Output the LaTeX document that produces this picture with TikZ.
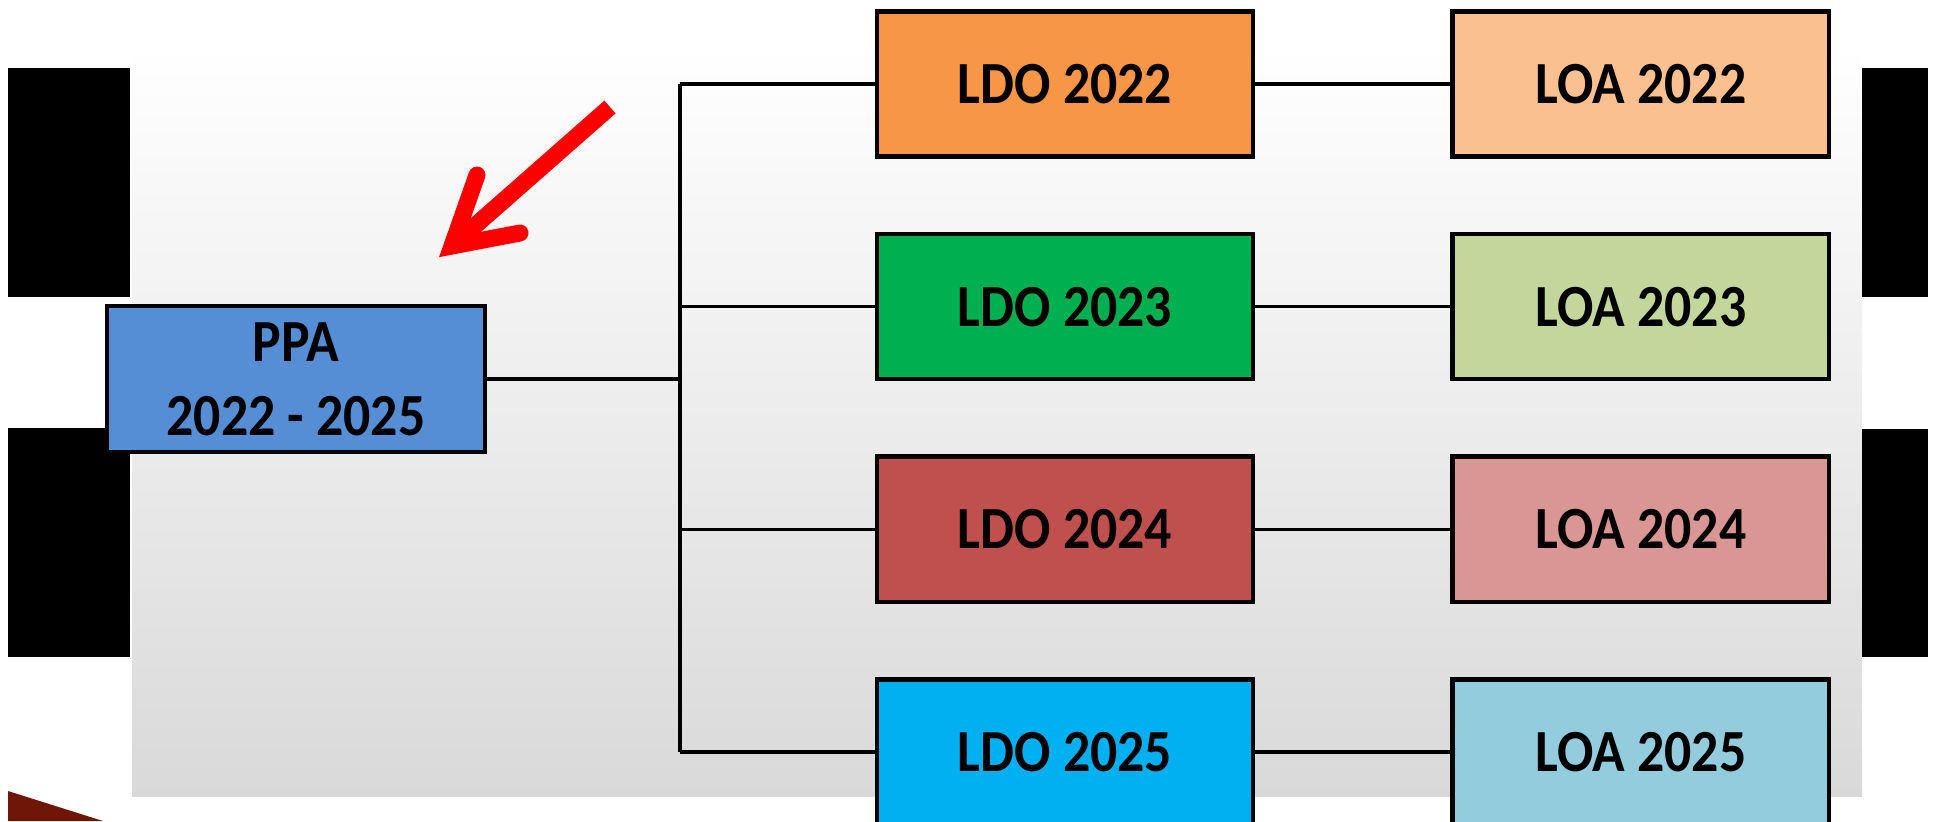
\documentclass[tikz,border=0pt]{standalone}
\usepackage{fontspec}
\setmainfont{Carlito}[FakeStretch=0.9]
\usepackage{tikz}
\usetikzlibrary{positioning}
\definecolor{ppablue}{HTML}{558ED5}
\definecolor{ldoorange}{HTML}{F79646}
\definecolor{ldogreen}{HTML}{00B050}
\definecolor{ldored}{HTML}{C0504D}
\definecolor{ldocyan}{HTML}{00B0F0}
\definecolor{loaorange}{HTML}{FAC090}
\definecolor{loagreen}{HTML}{C3D69B}
\definecolor{loared}{HTML}{D99694}
\definecolor{loacyan}{HTML}{93CDDD}
\definecolor{panelmid}{HTML}{EFEEEF}
\definecolor{panelgray}{HTML}{D9D9D9}
\definecolor{wedgered}{HTML}{701608}
\tikzset{
    %Define style for boxes
    plan/.style={
           rectangle,
           draw=black, line width=0.045cm,
           minimum width=3.76cm,
           minimum height=1.45cm,
           font=\fontsize{17}{21}\selectfont\bfseries,
           align=center},
    % Define line style
    link/.style={
           draw=black,
           line width=0.035cm},
    blackbar/.style={
           fill=black},
    % Define style of the red pointer
    pointer/.style={
           draw=red,
           line width=0.17cm}
}
\begin{document}
\begin{tikzpicture}[x=0.01cm,y=-0.01cm,node distance=0.73cm]
\useasboundingbox (0,0) rectangle (1940,821);
\clip (0,0) rectangle (1940,821);
\shade[top color=white, middle color=panelmid, bottom color=panelgray] (132,45) rectangle (1862,796);
\fill[blackbar] (8,68) rectangle (130,297);
\fill[blackbar] (8,428) rectangle (130,657);
\fill[blackbar] (1862,68) rectangle (1928,297);
\fill[blackbar] (1862,429) rectangle (1928,657);
\fill[wedgered] (8,791) -- (103,821) -- (8,821) -- cycle;
\node[plan, fill=ppablue, minimum width=3.78cm, minimum height=1.46cm](ppa) at (296,379){PPA\\2022 - 2025};
\node[plan, fill=ldoorange](ldo22) at (1065,84){LDO 2022};
\node[plan, fill=ldogreen, below=of ldo22](ldo23){LDO 2023};
\node[plan, fill=ldored, below=of ldo23](ldo24){LDO 2024};
\node[plan, fill=ldocyan, below=of ldo24](ldo25){LDO 2025};
\node[plan, fill=loaorange, right=1.95cm of ldo22](loa22){LOA 2022};
\node[plan, fill=loagreen, right=1.95cm of ldo23](loa23){LOA 2023};
\node[plan, fill=loared, right=1.95cm of ldo24](loa24){LOA 2024};
\node[plan, fill=loacyan, right=1.95cm of ldo25](loa25){LOA 2025};
\coordinate (trunk) at (680,0);
\draw[link] (ppa.east) -- (ppa.east -| trunk);
\draw[link] (ldo22.west -| trunk) -- (ldo25.west -| trunk);
\foreach \y in {22,23,24,25}{
  \draw[link] (ldo\y.west -| trunk) -- (ldo\y.west);
  \path (ldo\y) edge[link] (loa\y);
}
% red pointer
\coordinate (tail) at (610,107);
\coordinate (head) at (452,246);
\coordinate (barba) at (477,175);
\coordinate (barbb) at (520,233);
\draw[pointer] (tail) -- (head);
\draw[pointer, line cap=round, line join=miter] (barba) -- (head) -- (barbb);
\end{tikzpicture}
\end{document}
